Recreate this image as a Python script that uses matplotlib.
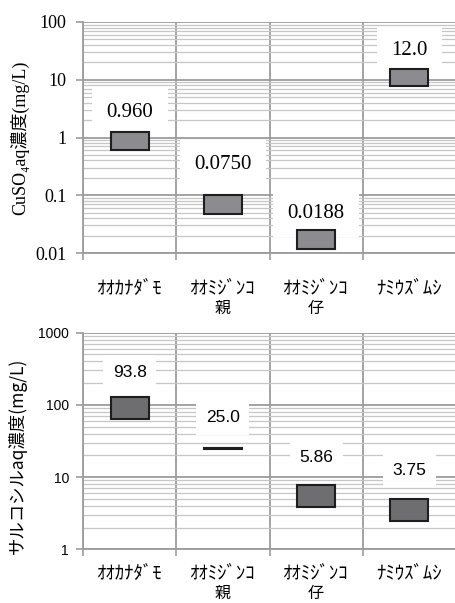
import matplotlib
matplotlib.use("Agg")
import matplotlib.pyplot as plt
import matplotlib.ticker as mticker
import matplotlib.transforms as mtransforms
import numpy as np

# カテゴリ（半角カナ）と2行目
categories = ["ｵｵｶﾅﾀﾞﾓ", "ｵｵﾐｼﾞﾝｺ", "ｵｵﾐｼﾞﾝｺ", "ﾅﾐｳｽﾞﾑｼ"]
categories_sub = ["", "親", "仔", ""]

# CuSO4 : 値, 下限, 上限
cuso4_value = [0.960, 0.0750, 0.0188, 12.0]
cuso4_label = ["0.960", "0.0750", "0.0188", "12.0"]
cuso4_low = [0.61, 0.048, 0.0119, 7.8]
cuso4_high = [1.24, 0.100, 0.0247, 15.6]

# サルコシル : 値, 下限, 上限
sarc_value = [93.8, 25.0, 5.86, 3.75]
sarc_label = ["93.8", "25.0", "5.86", "3.75"]
sarc_low = [63.0, 24.6, 3.85, 2.46]
sarc_high = [127.0, 25.4, 7.85, 4.96]

# ラベルの位置（箱の上端からの距離, px）
cuso4_offset = [20, 31, 17, 18]
sarc_offset = [25, 30, 27, 29]

SERIF = ["Liberation Serif", "Noto Sans CJK JP", "DejaVu Serif"]
SANS = ["Liberation Sans", "Noto Sans CJK JP", "DejaVu Sans"]
JP = ["Noto Sans CJK JP", "DejaVu Sans"]
GRID_MAJOR = "#9c9c9c"
GRID_MINOR = "#c6c6c6"

fig = plt.figure(figsize=(4.55, 6.03), dpi=100)
ax1 = fig.add_axes([83 / 455, 1 - 253 / 603, 373 / 455, 231 / 603])
ax2 = fig.add_axes([83 / 455, 1 - 549.3 / 603, 373 / 455, 216.6 / 603])


def setup(ax, ymin, ymax, tick_font, tick_size, tick_pad, cat_y):
    ax.set_yscale("log")
    ax.set_ylim(ymin, ymax)
    ax.set_xlim(-0.5, len(categories) - 0.5)
    ax.set_axisbelow(True)
    ax.yaxis.set_major_locator(mticker.LogLocator(base=10, numticks=10))
    ax.yaxis.set_minor_locator(mticker.LogLocator(base=10, subs=np.arange(2, 10), numticks=20))
    ax.yaxis.set_major_formatter(mticker.FuncFormatter(lambda v, p: f"{v:g}"))
    ax.yaxis.set_minor_formatter(mticker.NullFormatter())
    ax.grid(True, axis="y", which="major", color=GRID_MAJOR, lw=1.3)
    ax.grid(True, axis="y", which="minor", color=GRID_MINOR, lw=0.9)
    ax.set_xticks([])
    ax.set_xticks(np.arange(-0.5, len(categories)), minor=True)
    ax.xaxis.set_minor_formatter(mticker.NullFormatter())
    ax.grid(True, axis="x", which="minor", color=GRID_MAJOR, lw=1.3)
    ax.tick_params(axis="x", which="minor", length=5, width=1.2, color=GRID_MAJOR)
    ax.tick_params(axis="y", which="major", length=5, width=1.2, color=GRID_MAJOR,
                   pad=tick_pad, labelsize=tick_size, labelfontfamily=tick_font)
    ax.tick_params(axis="y", which="minor", length=0)
    for s in ["top", "right"]:
        ax.spines[s].set_visible(False)
    for s in ["left", "bottom"]:
        ax.spines[s].set_color(GRID_MAJOR)
        ax.spines[s].set_linewidth(1.3)
        ax.spines[s].set_zorder(5)
    # カテゴリ名（軸の下, px単位で配置）
    trans = ax.get_xaxis_transform()
    for i, (c, s) in enumerate(zip(categories, categories_sub)):
        t1 = mtransforms.offset_copy(trans, fig=fig, x=0, y=-cat_y, units="dots")
        ax.text(i, 0, c, transform=t1, ha="center", va="center", family=JP, fontsize=13.5)
        if s:
            t2 = mtransforms.offset_copy(trans, fig=fig, x=0, y=-cat_y - 20, units="dots")
            ax.text(i, 0, s, transform=t2, ha="center", va="center", family=JP, fontsize=11.5)


def draw(ax, low, high, labels, offsets, color, font, size, pad):
    x = np.arange(len(categories))
    ax.bar(x, np.array(high) - np.array(low), bottom=low, width=0.41,
           color=color, edgecolor="#1e1e1e", linewidth=1.5, zorder=4)
    for i, (h, t, off) in enumerate(zip(high, labels, offsets)):
        ax.annotate(t, xy=(i, h), xytext=(0, off * 0.72), textcoords="offset points",
                    ha="center", va="center", fontfamily=font, fontsize=size, zorder=3,
                    bbox=dict(boxstyle=f"square,pad={pad}", fc="white", ec="none"))


setup(ax1, 0.01, 100, SERIF, 13, 7, 35)
draw(ax1, cuso4_low, cuso4_high, cuso4_label, cuso4_offset, "#8c8c90", SERIF, 15, 0.7)
ax1.set_ylabel("CuSO₄aq濃度(mg/L)", family=SERIF, fontsize=13)
ax1.yaxis.set_label_coords(-0.145, 0.5)

setup(ax2, 1, 1000, SANS, 10, 5, 24)
draw(ax2, sarc_low, sarc_high, sarc_label, sarc_offset, "#6e6e70", SANS, 12.5, 0.55)
ax2.set_ylabel("サルコシルaq濃度(mg/L)", family=JP, fontsize=12.5)
ax2.yaxis.set_label_coords(-0.15, 0.43)

fig.savefig("out.png", dpi=100)
